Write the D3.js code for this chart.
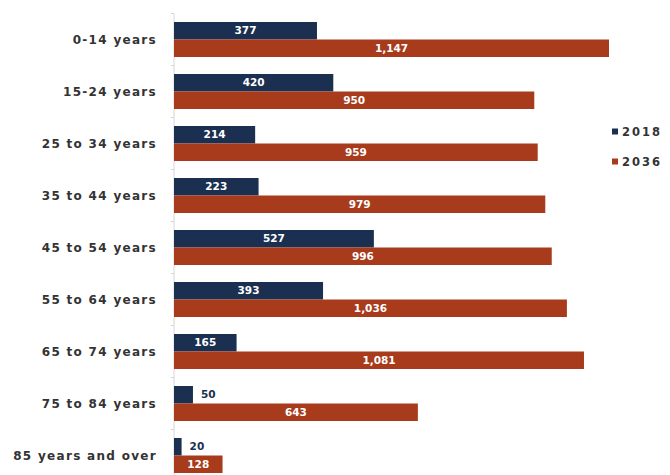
<!DOCTYPE html>
<html>
<head>
<meta charset="utf-8">
<script src="https://cdn.jsdelivr.net/npm/d3@7"></script>
<style>
  html, body { margin: 0; padding: 0; background: #ffffff; }
  svg { display: block; }
  text { font-family: "DejaVu Sans", "Lato", sans-serif; font-weight: bold; }
</style>
</head>
<body>
<svg id="chart" width="670" height="475"></svg>
<script>
// Population by age group, thousands
const ageGroups = ["0-14 years", "15-24 years", "25 to 34 years", "35 to 44 years",
  "45 to 54 years", "55 to 64 years", "65 to 74 years", "75 to 84 years", "85 years and over"];
const seriesNames = ["2018", "2036"];
const values2018 = [377, 420, 214, 223, 527, 393, 165, 50, 20];
const values2036 = [1147, 950, 959, 979, 996, 1036, 1081, 643, 128];
const seriesColors = ["#1b3050", "#a73b1c"];

const svg = d3.select("#chart");
const W = 670, H = 475;

const x = d3.scaleLinear().domain([0, 1147]).range([174, 609]);
const y = d3.scaleBand().domain(ageGroups).range([13.5, 481.5])
  .paddingInner(0.327).paddingOuter(0.1635);
const ySub = d3.scaleBand().domain(seriesNames).range([0, y.bandwidth()]);

const rows = ageGroups.map((g, i) => ({
  group: g,
  bars: [
    { key: "2018", value: values2018[i] },
    { key: "2036", value: values2036[i] }
  ]
}));
const color = d3.scaleOrdinal().domain(seriesNames).range(seriesColors);

// category axis: vertical line with small ticks between categories
const gap = y.step() - y.bandwidth();
svg.append("line")
  .attr("x1", x(0)).attr("x2", x(0))
  .attr("y1", y(ageGroups[0]) - gap / 2).attr("y2", H)
  .attr("stroke", "#d6d6d6").attr("stroke-width", 1);
svg.selectAll("line.tick").data(ageGroups).join("line")
  .attr("class", "tick")
  .attr("x1", x(0) - 3).attr("x2", x(0))
  .attr("y1", d => y(d) - gap / 2).attr("y2", d => y(d) - gap / 2)
  .attr("stroke", "#d6d6d6").attr("stroke-width", 1);

// category labels
svg.selectAll("text.cat").data(ageGroups).join("text")
  .attr("class", "cat")
  .attr("x", 157)
  .attr("y", d => y(d) + y.bandwidth() / 2)
  .attr("dy", "0.35em")
  .attr("text-anchor", "end")
  .attr("font-size", 12)
  .attr("letter-spacing", 1.3)
  .attr("fill", "#333333")
  .text(d => d);

// bars
const groups = svg.selectAll("g.row").data(rows).join("g")
  .attr("class", "row")
  .attr("transform", d => `translate(0,${y(d.group)})`);

groups.selectAll("rect").data(d => d.bars).join("rect")
  .attr("x", x(0))
  .attr("y", d => ySub(d.key))
  .attr("width", d => x(d.value) - x(0))
  .attr("height", ySub.bandwidth())
  .attr("fill", d => color(d.key));

// value labels: centred inside the bar, or just past its end when the bar is short
const fmt = d3.format(",");
groups.selectAll("text.val").data(d => d.bars).join("text")
  .attr("class", "val")
  .each(function (d) {
    const w = x(d.value) - x(0);
    const inside = w > 30;
    d3.select(this)
      .attr("x", inside ? x(0) + w / 2 : x(d.value) + 8)
      .attr("text-anchor", inside ? "middle" : "start")
      .attr("fill", inside ? "#ffffff" : seriesColors[0]);
  })
  .attr("y", d => ySub(d.key) + ySub.bandwidth() / 2)
  .attr("dy", "0.35em")
  .attr("font-size", 10.5)
  .text(d => fmt(d.value));

// legend
const legend = svg.selectAll("g.legend").data(seriesNames).join("g")
  .attr("class", "legend")
  .attr("transform", (d, i) => `translate(612,${132 + i * 30})`);
legend.append("rect")
  .attr("x", 0).attr("y", -3.5).attr("width", 6).attr("height", 6)
  .attr("fill", d => color(d));
legend.append("text")
  .attr("x", 10).attr("y", 0).attr("dy", "0.35em")
  .attr("font-size", 11.5).attr("letter-spacing", 2)
  .attr("fill", "#333333")
  .text(d => d);
</script>
</body>
</html>
